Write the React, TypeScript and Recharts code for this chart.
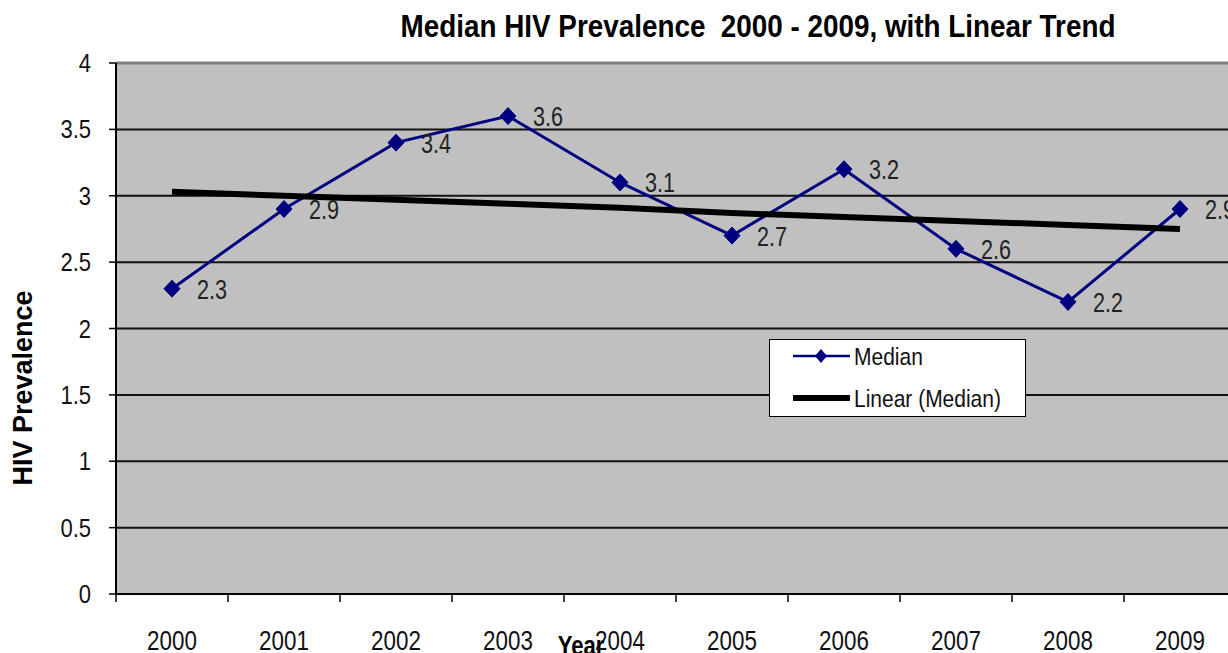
import React from 'react';
import {
  LineChart,
  Line,
  XAxis,
  YAxis,
  CartesianGrid,
  ReferenceLine,
  Legend,
  LabelList,
} from 'recharts';

const years = ['2000', '2001', '2002', '2003', '2004', '2005', '2006', '2007', '2008', '2009'];
const medianValues = [2.3, 2.9, 3.4, 3.6, 3.1, 2.7, 3.2, 2.6, 2.2, 2.9];
const trendValues = [3.03, 3.0, 2.97, 2.94, 2.91, 2.87, 2.84, 2.81, 2.78, 2.75];
const yTicks = [0, 0.5, 1, 1.5, 2, 2.5, 3, 3.5, 4];
const yTickLabels = ['0', '0.5', '1', '1.5', '2', '2.5', '3', '3.5', '4'];

const TITLE = 'Median HIV Prevalence  2000 - 2009, with Linear Trend';
const Y_LABEL = 'HIV Prevalence';
const X_LABEL = 'Year';
const SERIES_NAMES = ['Median', 'Linear (Median)'];

const data = years.map((year, i) => ({
  year,
  median: medianValues[i],
  trend: trendValues[i],
}));

const CHART_W = 1250;
const CHART_H = 665;
const MARGIN = { top: 63, right: 14, bottom: 11, left: 0 };
const YAXIS_W = 116;
const XAXIS_H = 60;
const PLOT_W = CHART_W - MARGIN.left - MARGIN.right - YAXIS_W;
const BAND = PLOT_W / years.length;
const FONT = '"Liberation Sans", Arial, Helvetica, sans-serif';
const NAVY = '#000080';

function SText(props: any) {
  const { x, y, sx = 1, anchor = 'start', size, bold, fill = '#111', children } = props;
  return (
    <text
      transform={`translate(${x},${y}) scale(${sx},1)`}
      textAnchor={anchor}
      fontSize={size}
      fontFamily={FONT}
      fontWeight={bold ? 'bold' : 'normal'}
      fill={fill}
    >
      {children}
    </text>
  );
}

const XTick = (props: any) => {
  const { x, y, payload } = props;
  const bx = x - BAND / 2;
  return (
    <g>
      <line x1={bx} x2={bx} y1={y} y2={y + 8} stroke="#000" strokeWidth={1.5} />
      <SText x={x} y={y + 56} anchor="middle" size={28} sx={0.8}>
        {payload.value}
      </SText>
    </g>
  );
};

const YTick = (props: any) => {
  const { x, y, payload } = props;
  const idx = yTicks.indexOf(payload.value);
  return (
    <SText x={x} y={y + 9} anchor="end" size={25} sx={0.88}>
      {idx >= 0 ? yTickLabels[idx] : String(payload.value)}
    </SText>
  );
};

const Diamond = (props: any) => {
  const { cx, cy, index } = props;
  if (cx == null || cy == null) return <g key={`d-${index}`} />;
  const w = 8;
  const h = 8.5;
  return (
    <polygon
      key={`d-${index}`}
      points={`${cx},${cy - h} ${cx + w},${cy} ${cx},${cy + h} ${cx - w},${cy}`}
      fill={NAVY}
      stroke={NAVY}
    />
  );
};

const renderValueLabel = (props: any) => {
  const { x, y, value, index } = props;
  return (
    <g key={`lbl-${index}`}>
      <SText x={x + 25} y={y + 10} size={27} sx={0.8} fill="#222">
        {String(value)}
      </SText>
    </g>
  );
};

const renderYLabel = () => (
  <text
    transform="translate(32,388) rotate(-90)"
    textAnchor="middle"
    fontSize={27}
    fontWeight="bold"
    fontFamily={FONT}
    fill="#000"
  >
    {Y_LABEL}
  </text>
);

const renderXLabel = () => (
  <SText x={581} y={655} anchor="middle" size={27} sx={0.82} bold fill="#000">
    {X_LABEL}
  </SText>
);

const renderLegend = () => (
  <svg width={257} height={78} style={{ display: 'block' }}>
    <rect x={0.5} y={0.5} width={256} height={77} fill="#fff" stroke="#000" strokeWidth={1} />
    <line x1={24} x2={81} y1={17} y2={17} stroke={NAVY} strokeWidth={2.5} />
    <polygon points={`52,${17 - 7} 58,17 52,${17 + 7} 46,17`} fill={NAVY} />
    <SText x={85} y={26} size={24} sx={0.875} fill="#111">
      {SERIES_NAMES[0]}
    </SText>
    <line x1={24} x2={81} y1={59} y2={59} stroke="#000" strokeWidth={6} />
    <SText x={85} y={68} size={24} sx={0.875} fill="#111">
      {SERIES_NAMES[1]}
    </SText>
  </svg>
);

export default function App() {
  return (
    <div
      style={{
        position: 'fixed',
        left: 0,
        top: 0,
        width: 1228,
        height: 653,
        overflow: 'hidden',
        background: '#fff',
      }}
    >
      <div
        style={{
          position: 'absolute',
          left: 258,
          top: 10,
          width: 1000,
          textAlign: 'center',
          fontFamily: FONT,
          fontWeight: 'bold',
          fontSize: 32,
          lineHeight: '32px',
          whiteSpace: 'pre',
          color: '#000',
          transform: 'scaleX(0.87)',
          transformOrigin: '50% 50%',
          zIndex: 2,
        }}
      >
        {TITLE}
      </div>
      <div style={{ position: 'absolute', left: 0, top: 0 }}>
        <LineChart width={CHART_W} height={CHART_H} data={data} margin={MARGIN}>
          <CartesianGrid
            vertical={false}
            horizontal
            fill="#C0C0C0"
            fillOpacity={1}
            stroke="#111"
            strokeWidth={2}
          />
          <XAxis
            dataKey="year"
            scale="band"
            height={XAXIS_H}
            tickSize={0}
            tickMargin={0}
            tickLine={false}
            axisLine={{ stroke: '#000', strokeWidth: 2 }}
            tick={<XTick />}
            interval={0}
            label={{ value: X_LABEL, content: renderXLabel }}
          />
          <YAxis
            domain={[0, 4]}
            ticks={yTicks}
            width={YAXIS_W}
            tickSize={7}
            tickMargin={18}
            tickLine={{ stroke: '#000', strokeWidth: 1.5 }}
            axisLine={{ stroke: '#000', strokeWidth: 2 }}
            tick={<YTick />}
            interval={0}
            label={{ value: Y_LABEL, content: renderYLabel }}
          />
          <ReferenceLine y={4} stroke="#808080" strokeWidth={3} />
          <Legend
            layout="vertical"
            align="center"
            verticalAlign="middle"
            wrapperStyle={{ left: 769, top: 339, width: 257, height: 78 }}
            content={renderLegend}
          />
          <Line
            type="linear"
            dataKey="median"
            name={SERIES_NAMES[0]}
            stroke={NAVY}
            strokeWidth={3}
            dot={Diamond}
            activeDot={false}
            isAnimationActive={false}
          >
            <LabelList dataKey="median" content={renderValueLabel} />
          </Line>
          <Line
            type="linear"
            dataKey="trend"
            name={SERIES_NAMES[1]}
            stroke="#000"
            strokeWidth={6}
            dot={false}
            activeDot={false}
            isAnimationActive={false}
          />
        </LineChart>
      </div>
    </div>
  );
}
